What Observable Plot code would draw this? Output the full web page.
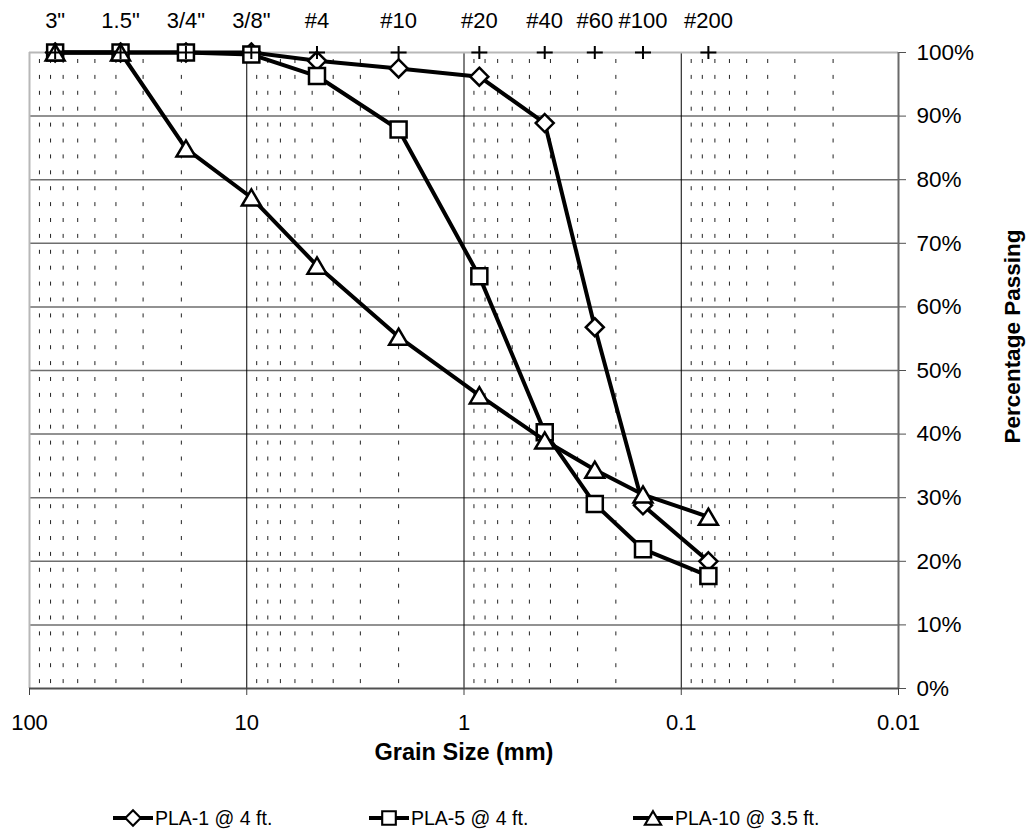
<!DOCTYPE html>
<html><head><meta charset="utf-8">
<script src="https://cdn.jsdelivr.net/npm/d3@7"></script>
<script src="https://cdn.jsdelivr.net/npm/@observablehq/plot@0.6"></script>
<style>
body{margin:0;background:#fff;font-family:"Liberation Sans",Arial,Helvetica,sans-serif;}
#chart{width:1032px;height:835px;position:relative;overflow:hidden;}
#chart svg.plot{position:absolute;left:0;top:0;}
#legend{position:absolute;left:0;top:806px;width:1032px;height:24px;font-size:19.5px;color:#000;}
.item{position:absolute;top:0;height:24px;display:flex;align-items:center;white-space:nowrap;}
.item svg{margin-right:2px;}
</style></head><body><div id="chart"></div>
<script>
// ---- data ----
const sieveLabels = ['3"', '1.5"', '3/4"', '3/8"', '#4', '#10', '#20', '#40', '#60', '#100', '#200'];
const sieveSizes = [76.2, 38.1, 19.05, 9.525, 4.75, 2.0, 0.85, 0.425, 0.25, 0.15, 0.075];
const pla1 = [100, 100, 100, 100, 98.7, 97.5, 96.2, 88.9, 56.8, 28.8, 20.0];
const pla5 = [100, 100, 100, 99.7, 96.3, 87.9, 64.8, 40.3, 29.0, 21.9, 17.7];
const pla10 = [100, 100, 84.9, 77.2, 66.5, 55.3, 46.1, 39.0, 34.4, 30.5, 27.0];
const seriesNames = ["PLA-1 @ 4 ft.", "PLA-5 @ 4 ft.", "PLA-10 @ 3.5 ft."];
const sieveMarkerLevel = 100;
const xTicks = [100, 10, 1, 0.1, 0.01];
const yTicks = [0, 10, 20, 30, 40, 50, 60, 70, 80, 90, 100];

// ---- symbols ----
const R = s => Math.sqrt(s / Math.PI);
const symDiamond = {draw(c, s){const r = R(s); c.moveTo(0,-r); c.lineTo(r,0); c.lineTo(0,r); c.lineTo(-r,0); c.closePath();}};
const symSquare = {draw(c, s){const r = R(s); c.moveTo(-r,-r); c.lineTo(r,-r); c.lineTo(r,r); c.lineTo(-r,r); c.closePath();}};
const symTriangle = {draw(c, s){const r = R(s), h = r*0.85; c.moveTo(0,-h); c.lineTo(r,h); c.lineTo(-r,h); c.closePath();}};
const symPlus = {draw(c, s){const r = R(s); c.moveTo(-r,0); c.lineTo(r,0); c.moveTo(0,-r*0.8); c.lineTo(0,r*0.8);}};

const rows = vals => sieveSizes.map((size, i) => ({size, pct: vals[i]}));
const sieves = sieveSizes.map((size, i) => ({size, label: sieveLabels[i], pct: sieveMarkerLevel}));
const series = [
  {name: seriesNames[0], data: rows(pla1), symbol: symDiamond, r: 9, path: "M0,-9L9,0L0,9L-9,0Z", left: 113},
  {name: seriesNames[1], data: rows(pla5), symbol: symSquare, r: 8, path: "M-8,-8L8,-8L8,8L-8,8Z", left: 369},
  {name: seriesNames[2], data: rows(pla10), symbol: symTriangle, r: 9.5, path: "M0,-8L9.5,8L-9.5,8Z", left: 633}
];

const minorTicks = [];
for (const dec of [10, 1, 0.1, 0.01]) for (let m = 2; m <= 9; m++) minorTicks.push(+(dec * m).toPrecision(3));

const seriesMarks = series.flatMap(s => [
  Plot.line(s.data, {x: "size", y: "pct", stroke: "#000", strokeWidth: 4, strokeLinejoin: "round"}),
  Plot.dot(s.data, {x: "size", y: "pct", symbol: s.symbol, r: s.r, fill: "#fff", stroke: "#000", strokeWidth: 2.5})
]);

const chart = Plot.plot({
  width: 1032, height: 770,
  marginTop: 52, marginLeft: 29, marginRight: 134, marginBottom: 82,
  style: {fontFamily: '"Liberation Sans", Arial, Helvetica, sans-serif', fontSize: "22px", color: "#000", background: "#fff", overflow: "visible"},
  x: {type: "log", domain: [100, 0.01]},
  y: {domain: [0, 100]},
  marks: [
    Plot.ruleX(minorTicks, {stroke: "#222", strokeWidth: 1, strokeDasharray: "4,11.9", strokeDashoffset: 8.9}),
    Plot.ruleY(yTicks.filter(d => d > 0 && d < 100), {stroke: "#6e6e6e", strokeWidth: 1.5}),
    Plot.ruleX([10, 1, 0.1], {stroke: "#000", strokeWidth: 1}),
    Plot.ruleY([100], {stroke: "#b8b8b8", strokeWidth: 2}),
    Plot.ruleX([100], {stroke: "#b8b8b8", strokeWidth: 2}),
    Plot.ruleX([0.01], {stroke: "#6a6a6a", strokeWidth: 2}),
    Plot.ruleY([0], {stroke: "#505050", strokeWidth: 2}),
    Plot.axisX({ticks: xTicks, tickFormat: d => `${d}`, tickSize: 7, tickPadding: 19, label: null, stroke: "#404040", fontSize: 22}),
    Plot.axisY({anchor: "right", ticks: yTicks, tickFormat: d => d + "%", tickSize: 7, tickPadding: 11, label: null, stroke: "#505050", fontSize: 22.5}),
    Plot.text(["Grain Size (mm)"], {frameAnchor: "bottom", lineAnchor: "middle", textAnchor: "middle", dy: 64, fontWeight: "bold", fontSize: 23.5}),
    Plot.text(["Percentage Passing"], {frameAnchor: "right", textAnchor: "middle", lineAnchor: "middle", rotate: -90, dx: 114, dy: -34, fontWeight: "bold", fontSize: 22.5}),
    ...seriesMarks,
    Plot.dot(sieves, {x: "size", y: "pct", symbol: symPlus, r: 8, fill: "none", stroke: "#000", strokeWidth: 2}),
    Plot.text(sieves, {x: "size", y: "pct", text: "label", dy: -32, fontSize: 22})
  ]
});
document.getElementById("chart").appendChild(chart);

// ---- legend ----
const legend = document.createElement("div");
legend.id = "legend";
for (const s of series) {
  const item = document.createElement("div");
  item.className = "item";
  item.style.left = s.left + "px";
  item.innerHTML = `<svg width="40" height="22" viewBox="-20 -11 40 22"><line x1="-20" x2="20" y1="0" y2="0" stroke="#000" stroke-width="4"/><path d="${s.path}" fill="#fff" stroke="#000" stroke-width="2.5" transform="scale(0.85)"/></svg><span>${s.name}</span>`;
  legend.appendChild(item);
}
document.getElementById("chart").appendChild(legend);
</script>
</body></html>
